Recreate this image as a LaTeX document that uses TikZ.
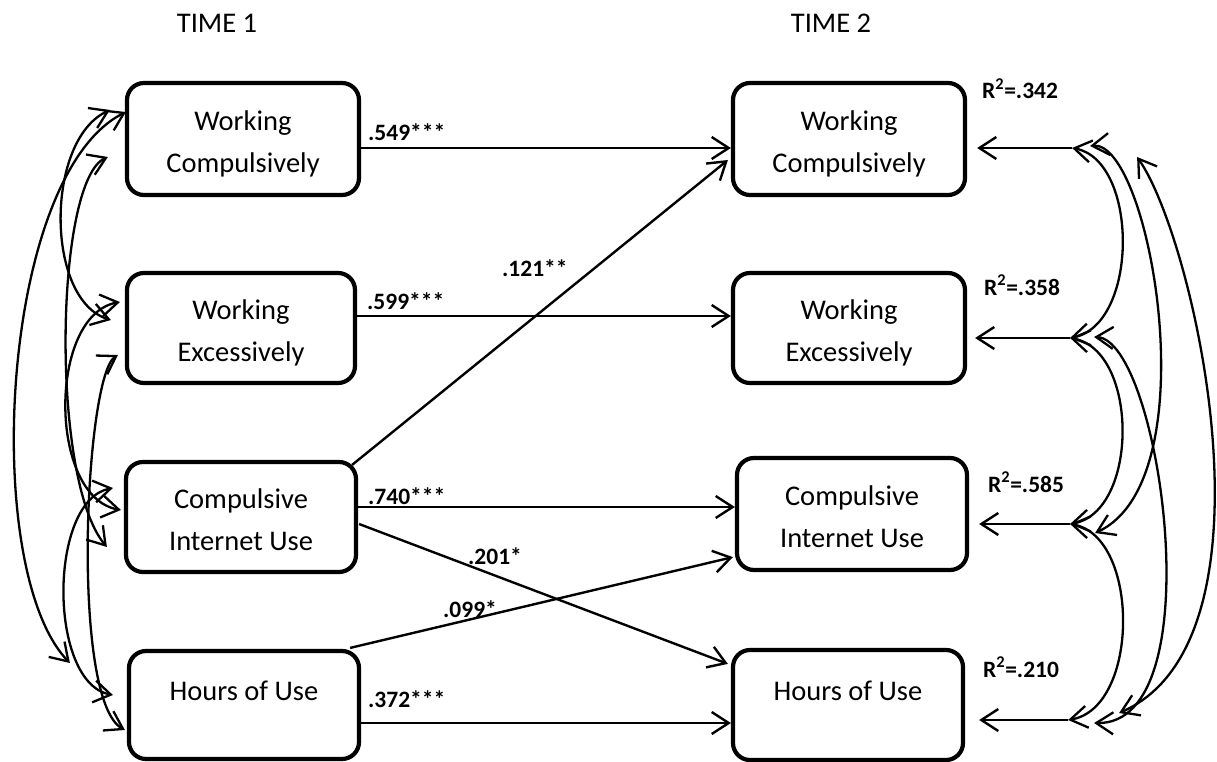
\documentclass[tikz,border=0pt]{standalone}
\usepackage{fontspec}
\setmainfont{Carlito}
\usetikzlibrary{arrows.meta,calc}
\newcommand\Tup{\rule{0pt}{31pt}}
\newcommand\Tdn{\rule[-7pt]{0pt}{7pt}}
\begin{document}
\begin{tikzpicture}[x=1pt,y=-1pt,
  box/.style={draw, line width=4.2pt, rounded corners=17pt, align=center, inner sep=0pt,
    font=\fontsize{28.5pt}{42pt}\selectfont},
  onebox/.style={box, text height=20pt, text depth=30pt},
  conn/.style={line width=2.4pt, -{Straight Barb[length=17pt,width=22pt]}},
  corr/.style={line width=2.3pt, {Straight Barb[length=17pt,width=22pt]}-{Straight Barb[length=17pt,width=22pt]}},
  coef/.style={font=\fontsize{23.5pt}{27pt}\selectfont\bfseries, anchor=base west, inner sep=0pt},
  title/.style={font=\fontsize{28.5pt}{34pt}\selectfont, anchor=base, inner sep=0pt}]
\useasboundingbox (0,0) rectangle (1217,762);

% titles
\node[title] (t1) at (217,33) {TIME 1};
\node[title] (t2) at (831,33) {TIME 2};

% boxes
\node[box, minimum width=232pt, minimum height=112pt] (L1) at (243,139) {\Tup Working\\Compulsively\Tdn};
\node[box, minimum width=228pt, minimum height=110pt] (L2) at (241,328) {\Tup Working\\Excessively\Tdn};
\node[box, minimum width=230pt, minimum height=110pt] (L3) at (241,517) {\Tup Compulsive\\Internet Use\Tdn};
\node[onebox, minimum width=230pt, minimum height=108pt] (L4) at (244,705) {Hours of Use};
\node[box, minimum width=232pt, minimum height=112pt] (R1) at (849,139) {\Tup Working\\Compulsively\Tdn};
\node[box, minimum width=232pt, minimum height=110pt] (R2) at (849,328) {\Tup Working\\Excessively\Tdn};
\node[box, minimum width=230pt, minimum height=112pt] (R3) at (852,514) {\Tup Compulsive\\Internet Use\Tdn};
\node[onebox, minimum width=230pt, minimum height=110pt] (R4) at (848,705) {Hours of Use};

% paths
\draw[conn] ($(L1.east)+(0,9)$) -- ($(R1.west)+(0,9)$);
\draw[conn] ($(L2.east)+(0,-12)$) -- ($(R2.west)+(0,-12)$);
\draw[conn] ($(L3.north east)+(-6,5)$) -- ($(R1.west)+(-3,21)$);
\draw[conn] ($(L3.east)+(0,-10)$) -- ($(R3.west)+(0,-7)$);
\draw[conn] ($(L3.east)+(1,7)$) -- ($(R4.north west)+(-3,16)$);
\draw[conn] ($(L4.north east)+(-11,-1)$) -- ($(R3.south west)+(-2,-15)$);
\draw[conn] ($(L4.east)+(0,18)$) -- ($(R4.west)+(0,18)$);

% coefficients
\node[coef] (k1) at (368,141) {.549***};
\node[coef] (k2) at (367,309) {.599***};
\node[coef] (k3) at (502,276) {.121**};
\node[coef] (k4) at (368,504) {.740***};
\node[coef] (k5) at (468,564) {.201*};
\node[coef] (k6) at (443,617) {.099*};
\node[coef] (k7) at (368,707) {.372***};

% R squared
\node[coef] (r1) at (982,99) {R\textsuperscript{2}=.342};
\node[coef] (r2) at (984,295) {R\textsuperscript{2}=.358};
\node[coef] (r3) at (988,492) {R\textsuperscript{2}=.585};
\node[coef] (r4) at (983,677) {R\textsuperscript{2}=.210};

% residual arrows
\coordinate (P1) at ($(R1.east)+(105,9)$);
\coordinate (P2) at ($(R2.east)+(103,10)$);
\coordinate (P3) at ($(R3.east)+(101,10)$);
\coordinate (P4) at ($(R4.east)+(103,15)$);
\draw[conn] (P1) -- ($(R1.east)+(10,9)$);
\draw[conn] (P2) -- ($(R2.east)+(8,10)$);
\draw[conn] (P3) -- ($(R3.east)+(10,10)$);
\draw[conn] (P4) -- ($(R4.east)+(14,15)$);

% right correlations
\draw[corr] (P1) .. controls (1139,160) and (1139,325) .. (P2);
\draw[corr] (P2) .. controls (1139,350) and (1139,512) .. (P3);
\draw[corr] (P3) .. controls (1140,536) and (1140,708) .. (P4);
\draw[corr] ($(P1)+(18,-2)$) .. controls (1150,140) and (1210,480) .. ($(P3)+(25,9)$);
\draw[corr] ($(P2)+(24,-1)$) .. controls (1160,340) and (1215,725) .. ($(P4)+(26,3)$);
\draw[corr] ($(P1)+(65,9)$) .. controls (1195,240) and (1285,640) .. ($(P4)+(51,-7)$);

% left correlations
\draw[corr] ($(L1.west)+(-15,-29)$) .. controls (45,140) and (45,300) .. ($(L2.west)+(-14,-8)$);
\draw[corr] ($(L1.west)+(1,-27)$) .. controls (0,175) and (-20,570) .. ($(L4.west)+(-57,-42)$);
\draw[corr] ($(L1.west)+(-17,18)$) .. controls (55,180) and (50,480) .. ($(L3.west)+(-17,30)$);
\draw[corr] ($(L2.west)+(-5,-26)$) .. controls (48,315) and (48,497) .. ($(L3.west)+(-3,-7)$);
\draw[corr] ($(L2.west)+(-7,27)$) .. controls (85,375) and (70,700) .. ($(L4.west)+(-2,25)$);
\draw[corr] ($(L3.west)+(-11,-29)$) .. controls (48,500) and (48,683) .. ($(L4.west)+(-14,-10)$);
\end{tikzpicture}
\end{document}
